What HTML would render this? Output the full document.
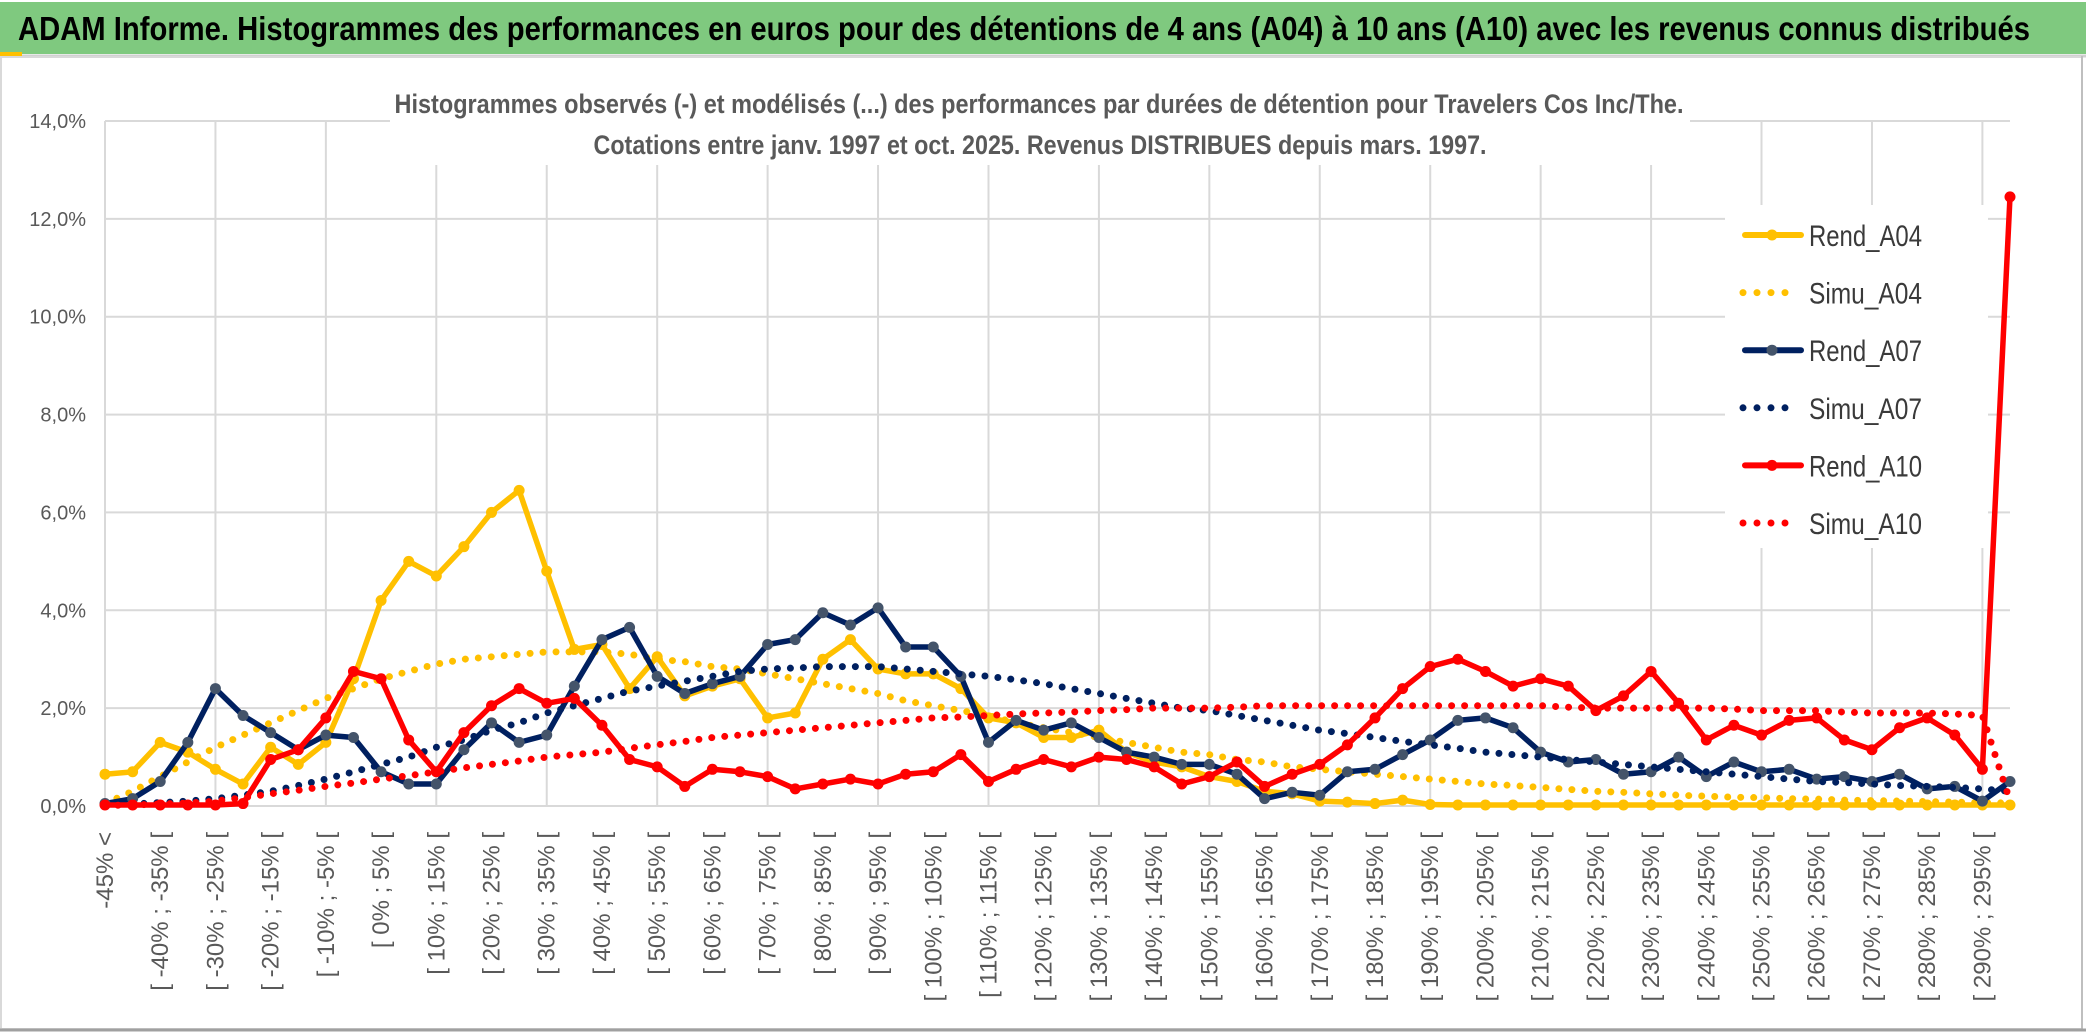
<!DOCTYPE html>
<html><head><meta charset="utf-8"><style>
html,body{margin:0;padding:0;background:#fff;}
svg{display:block;font-family:"Liberation Sans Narrow","Liberation Sans",sans-serif;}
</style></head><body>
<svg id="chart" width="2086" height="1033" viewBox="0 0 2086 1033" xmlns="http://www.w3.org/2000/svg">
<rect x="0" y="0" width="2086" height="1033" fill="#fff"/>
<rect x="0" y="2" width="2086" height="52" fill="#7FC97F"/>
<line x1="0" y1="56" x2="2086" y2="56" stroke="#d0d0d0" stroke-width="3"/>
<rect x="0" y="52" width="22" height="4" fill="#FFC000"/>
<text x="18" y="40" font-size="33" font-weight="bold" fill="#000" textLength="2012" lengthAdjust="spacingAndGlyphs">ADAM Informe. Histogrammes des performances en euros pour des détentions de 4 ans (A04) à 10 ans (A10) avec les revenus connus distribués</text>
<rect x="1" y="57" width="2081" height="972" fill="none" stroke="#d9d9d9" stroke-width="2"/>
<line x1="2082" y1="56" x2="2082" y2="1030" stroke="#bfbfbf" stroke-width="2"/>
<line x1="0" y1="1030" x2="2086" y2="1030" stroke="#a0a0a0" stroke-width="3"/>
<g id="grid"></g>
<rect x="390" y="85" width="1300" height="80" fill="#fff"/>
<text x="1039" y="113" font-size="27" font-weight="bold" fill="#595959" text-anchor="middle" textLength="1289" lengthAdjust="spacingAndGlyphs">Histogrammes observés (-) et modélisés (...) des performances par durées de détention pour Travelers Cos Inc/The.</text>
<text x="1040" y="154" font-size="27" font-weight="bold" fill="#595959" text-anchor="middle" textLength="893" lengthAdjust="spacingAndGlyphs">Cotations entre janv. 1997 et oct. 2025. Revenus DISTRIBUES depuis mars. 1997.</text>
<g id="ylabels"></g>
<g id="xlabels"></g>
<g id="series"></g>
<rect x="1725" y="205" width="263" height="343" fill="#fff"/>
<g id="legend"></g>
</svg>
<script>
const categories = ["-45% <","[ -45% ; -40% [","[ -40% ; -35% [","[ -35% ; -30% [","[ -30% ; -25% [","[ -25% ; -20% [","[ -20% ; -15% [","[ -15% ; -10% [","[ -10% ; -5% [","[ -5% ; 0% [","[ 0% ; 5% [","[ 5% ; 10% [","[ 10% ; 15% [","[ 15% ; 20% [","[ 20% ; 25% [","[ 25% ; 30% [","[ 30% ; 35% [","[ 35% ; 40% [","[ 40% ; 45% [","[ 45% ; 50% [","[ 50% ; 55% [","[ 55% ; 60% [","[ 60% ; 65% [","[ 65% ; 70% [","[ 70% ; 75% [","[ 75% ; 80% [","[ 80% ; 85% [","[ 85% ; 90% [","[ 90% ; 95% [","[ 95% ; 100% [","[ 100% ; 105% [","[ 105% ; 110% [","[ 110% ; 115% [","[ 115% ; 120% [","[ 120% ; 125% [","[ 125% ; 130% [","[ 130% ; 135% [","[ 135% ; 140% [","[ 140% ; 145% [","[ 145% ; 150% [","[ 150% ; 155% [","[ 155% ; 160% [","[ 160% ; 165% [","[ 165% ; 170% [","[ 170% ; 175% [","[ 175% ; 180% [","[ 180% ; 185% [","[ 185% ; 190% [","[ 190% ; 195% [","[ 195% ; 200% [","[ 200% ; 205% [","[ 205% ; 210% [","[ 210% ; 215% [","[ 215% ; 220% [","[ 220% ; 225% [","[ 225% ; 230% [","[ 230% ; 235% [","[ 235% ; 240% [","[ 240% ; 245% [","[ 245% ; 250% [","[ 250% ; 255% [","[ 255% ; 260% [","[ 260% ; 265% [","[ 265% ; 270% [","[ 270% ; 275% [","[ 275% ; 280% [","[ 280% ; 285% [","[ 285% ; 290% [","[ 290% ; 295% [","> 295%"];
const yTicks = [0,2,4,6,8,10,12,14];
const yTickLabels = ["0,0%","2,0%","4,0%","6,0%","8,0%","10,0%","12,0%","14,0%"];
const rendA04 = [0.65,0.7,1.3,1.1,0.75,0.45,1.2,0.85,1.3,2.6,4.2,5.0,4.7,5.3,6.0,6.45,4.8,3.2,3.3,2.4,3.05,2.25,2.45,2.6,1.8,1.9,3.0,3.4,2.8,2.7,2.7,2.4,1.8,1.7,1.4,1.4,1.55,1.1,0.9,0.8,0.6,0.5,0.3,0.25,0.1,0.08,0.05,0.12,0.03,0.02,0.02,0.02,0.02,0.02,0.02,0.02,0.02,0.02,0.02,0.02,0.02,0.02,0.02,0.02,0.02,0.02,0.02,0.02,0.02,0.02];
const simuA04 = [0.05,0.3,0.6,0.9,1.2,1.45,1.7,1.95,2.2,2.4,2.6,2.75,2.9,3.0,3.05,3.1,3.15,3.15,3.15,3.1,3.0,2.95,2.85,2.8,2.7,2.6,2.5,2.4,2.3,2.15,2.05,1.95,1.85,1.7,1.6,1.5,1.4,1.3,1.2,1.1,1.05,0.95,0.9,0.8,0.75,0.7,0.65,0.6,0.55,0.5,0.45,0.42,0.38,0.34,0.3,0.28,0.25,0.22,0.2,0.18,0.17,0.15,0.14,0.12,0.11,0.1,0.09,0.08,0.07,0.06];
const rendA07 = [0.05,0.15,0.5,1.3,2.4,1.85,1.5,1.15,1.45,1.4,0.7,0.45,0.45,1.15,1.7,1.3,1.45,2.45,3.4,3.65,2.65,2.3,2.5,2.65,3.3,3.4,3.95,3.7,4.05,3.25,3.25,2.65,1.3,1.75,1.55,1.7,1.4,1.1,1.0,0.85,0.85,0.65,0.15,0.28,0.22,0.7,0.75,1.05,1.35,1.75,1.8,1.6,1.1,0.9,0.95,0.65,0.7,1.0,0.6,0.9,0.7,0.75,0.55,0.6,0.5,0.65,0.35,0.4,0.1,0.5];
const simuA07 = [0.02,0.04,0.07,0.1,0.15,0.22,0.3,0.42,0.55,0.7,0.85,1.0,1.2,1.35,1.55,1.7,1.9,2.05,2.2,2.35,2.45,2.55,2.65,2.75,2.8,2.82,2.85,2.85,2.85,2.8,2.75,2.7,2.65,2.58,2.5,2.4,2.3,2.2,2.1,2.0,1.95,1.85,1.75,1.65,1.55,1.48,1.4,1.32,1.25,1.18,1.1,1.05,1.0,0.95,0.9,0.85,0.8,0.75,0.7,0.65,0.6,0.55,0.5,0.48,0.45,0.42,0.4,0.38,0.35,0.3];
const rendA10 = [0.02,0.02,0.02,0.02,0.02,0.05,0.95,1.15,1.8,2.75,2.6,1.35,0.7,1.5,2.05,2.4,2.1,2.2,1.65,0.95,0.8,0.4,0.75,0.7,0.6,0.35,0.45,0.55,0.45,0.65,0.7,1.05,0.5,0.75,0.95,0.8,1.0,0.95,0.8,0.45,0.6,0.9,0.4,0.65,0.85,1.25,1.8,2.4,2.85,3.0,2.75,2.45,2.6,2.45,1.95,2.25,2.75,2.1,1.35,1.65,1.45,1.75,1.8,1.35,1.15,1.6,1.8,1.45,0.75,12.45];
const simuA10 = [0.01,0.02,0.04,0.06,0.1,0.17,0.25,0.32,0.4,0.47,0.55,0.62,0.7,0.78,0.85,0.92,1.0,1.05,1.1,1.18,1.25,1.32,1.4,1.45,1.5,1.55,1.6,1.65,1.7,1.75,1.8,1.82,1.85,1.88,1.9,1.92,1.95,1.97,2.0,2.0,2.0,2.02,2.05,2.05,2.05,2.05,2.05,2.05,2.05,2.05,2.05,2.05,2.05,2.02,2.0,2.0,2.0,2.0,2.0,1.98,1.95,1.95,1.95,1.92,1.9,1.9,1.9,1.88,1.85,0.1];
const seriesNames = ["Rend_A04","Simu_A04","Rend_A07","Simu_A07","Rend_A10","Simu_A10"];

const NS = "http://www.w3.org/2000/svg";
const X0 = 105, X1 = 2010, Y0 = 806, Y1 = 121, YMAX = 14;
const n = categories.length;
function xs(i){ return X0 + (X1 - X0) * i / (n - 1); }
function ys(v){ return Y0 - (Y0 - Y1) * v / YMAX; }
function mk(tag, attrs, parent){ const e = document.createElementNS(NS, tag); for (const k in attrs) e.setAttribute(k, attrs[k]); parent.appendChild(e); return e; }

const grid = document.getElementById('grid');
yTicks.forEach((t, k) => {
  const l = mk('line', {x1: X0, x2: X1, y1: ys(t), y2: ys(t), stroke: '#d9d9d9', 'stroke-width': 2}, grid);
  
  
});
for (let i = 0; i < n; i += 4) {
  const l = mk('line', {x1: xs(i), x2: xs(i), y1: Y1, y2: Y0, stroke: '#d9d9d9', 'stroke-width': 2}, grid);
  
  
}

const yl = document.getElementById('ylabels');
yTicks.forEach((t, k) => {
  const tx = mk('text', {x: 86, y: ys(t) + 7, 'font-size': 20, fill: '#595959', 'text-anchor': 'end'}, yl);
  tx.textContent = yTickLabels[k];
  
  
});

const xl = document.getElementById('xlabels');
for (let i = 0; i < n; i += 2) {
  const x = xs(i) + 8, y = 832;
  const tx = mk('text', {x: x, y: y, 'font-size': 24, fill: '#595959', 'text-anchor': 'end', transform: `rotate(-90 ${x} ${y})`, style: 'font-family:"Liberation Sans",sans-serif'}, xl);
  tx.textContent = categories[i];
  
  
}

const sg = document.getElementById('series');
const defs = [
  {data: rendA04, color: '#FFC000', marker: '#FFC000', dotted: false},
  {data: simuA04, color: '#FFC000', dotted: true},
  {data: rendA07, color: '#002060', marker: '#44546A', dotted: false},
  {data: simuA07, color: '#002060', dotted: true},
  {data: rendA10, color: '#FF0000', marker: '#FF0000', dotted: false},
  {data: simuA10, color: '#FF0000', dotted: true}
];
defs.forEach((d, s) => {
  const g = mk('g', {}, sg);
  
  
  const pts = d.data.map((v, i) => xs(i).toFixed(1) + ',' + ys(v).toFixed(1)).join(' ');
  const pl = mk('polyline', {points: pts, fill: 'none', stroke: d.color, 'stroke-width': d.dotted ? 7 : 5.5, 'stroke-linejoin': 'round', 'stroke-linecap': 'round'}, g);
  if (d.dotted) pl.setAttribute('stroke-dasharray', '0 13');
  
  
  if (!d.dotted) {
    d.data.forEach((v, i) => {
      const c = mk('circle', {cx: xs(i), cy: ys(v), r: 5.5, fill: d.marker}, g);
      
      
    });
  }
});

const lg = document.getElementById('legend');
seriesNames.forEach((name, s) => {
  const d = defs[s];
  const y = 235 + s * 57.6;
  const g = mk('g', {}, lg);
  
  
  if (d.dotted) {
    mk('line', {x1: 1743, x2: 1798, y1: y, y2: y, stroke: d.color, 'stroke-width': 7, 'stroke-dasharray': '0 14', 'stroke-linecap': 'round'}, g);
  } else {
    mk('line', {x1: 1745, x2: 1801, y1: y, y2: y, stroke: d.color, 'stroke-width': 6, 'stroke-linecap': 'round'}, g);
    mk('circle', {cx: 1772, cy: y, r: 5.5, fill: d.marker}, g);
  }
  const t = mk('text', {x: 1809, y: y + 11, 'font-size': 30, fill: '#3a3a3a', textLength: 113, lengthAdjust: 'spacingAndGlyphs'}, g);
  t.textContent = name;
});
</script>
</body></html>
